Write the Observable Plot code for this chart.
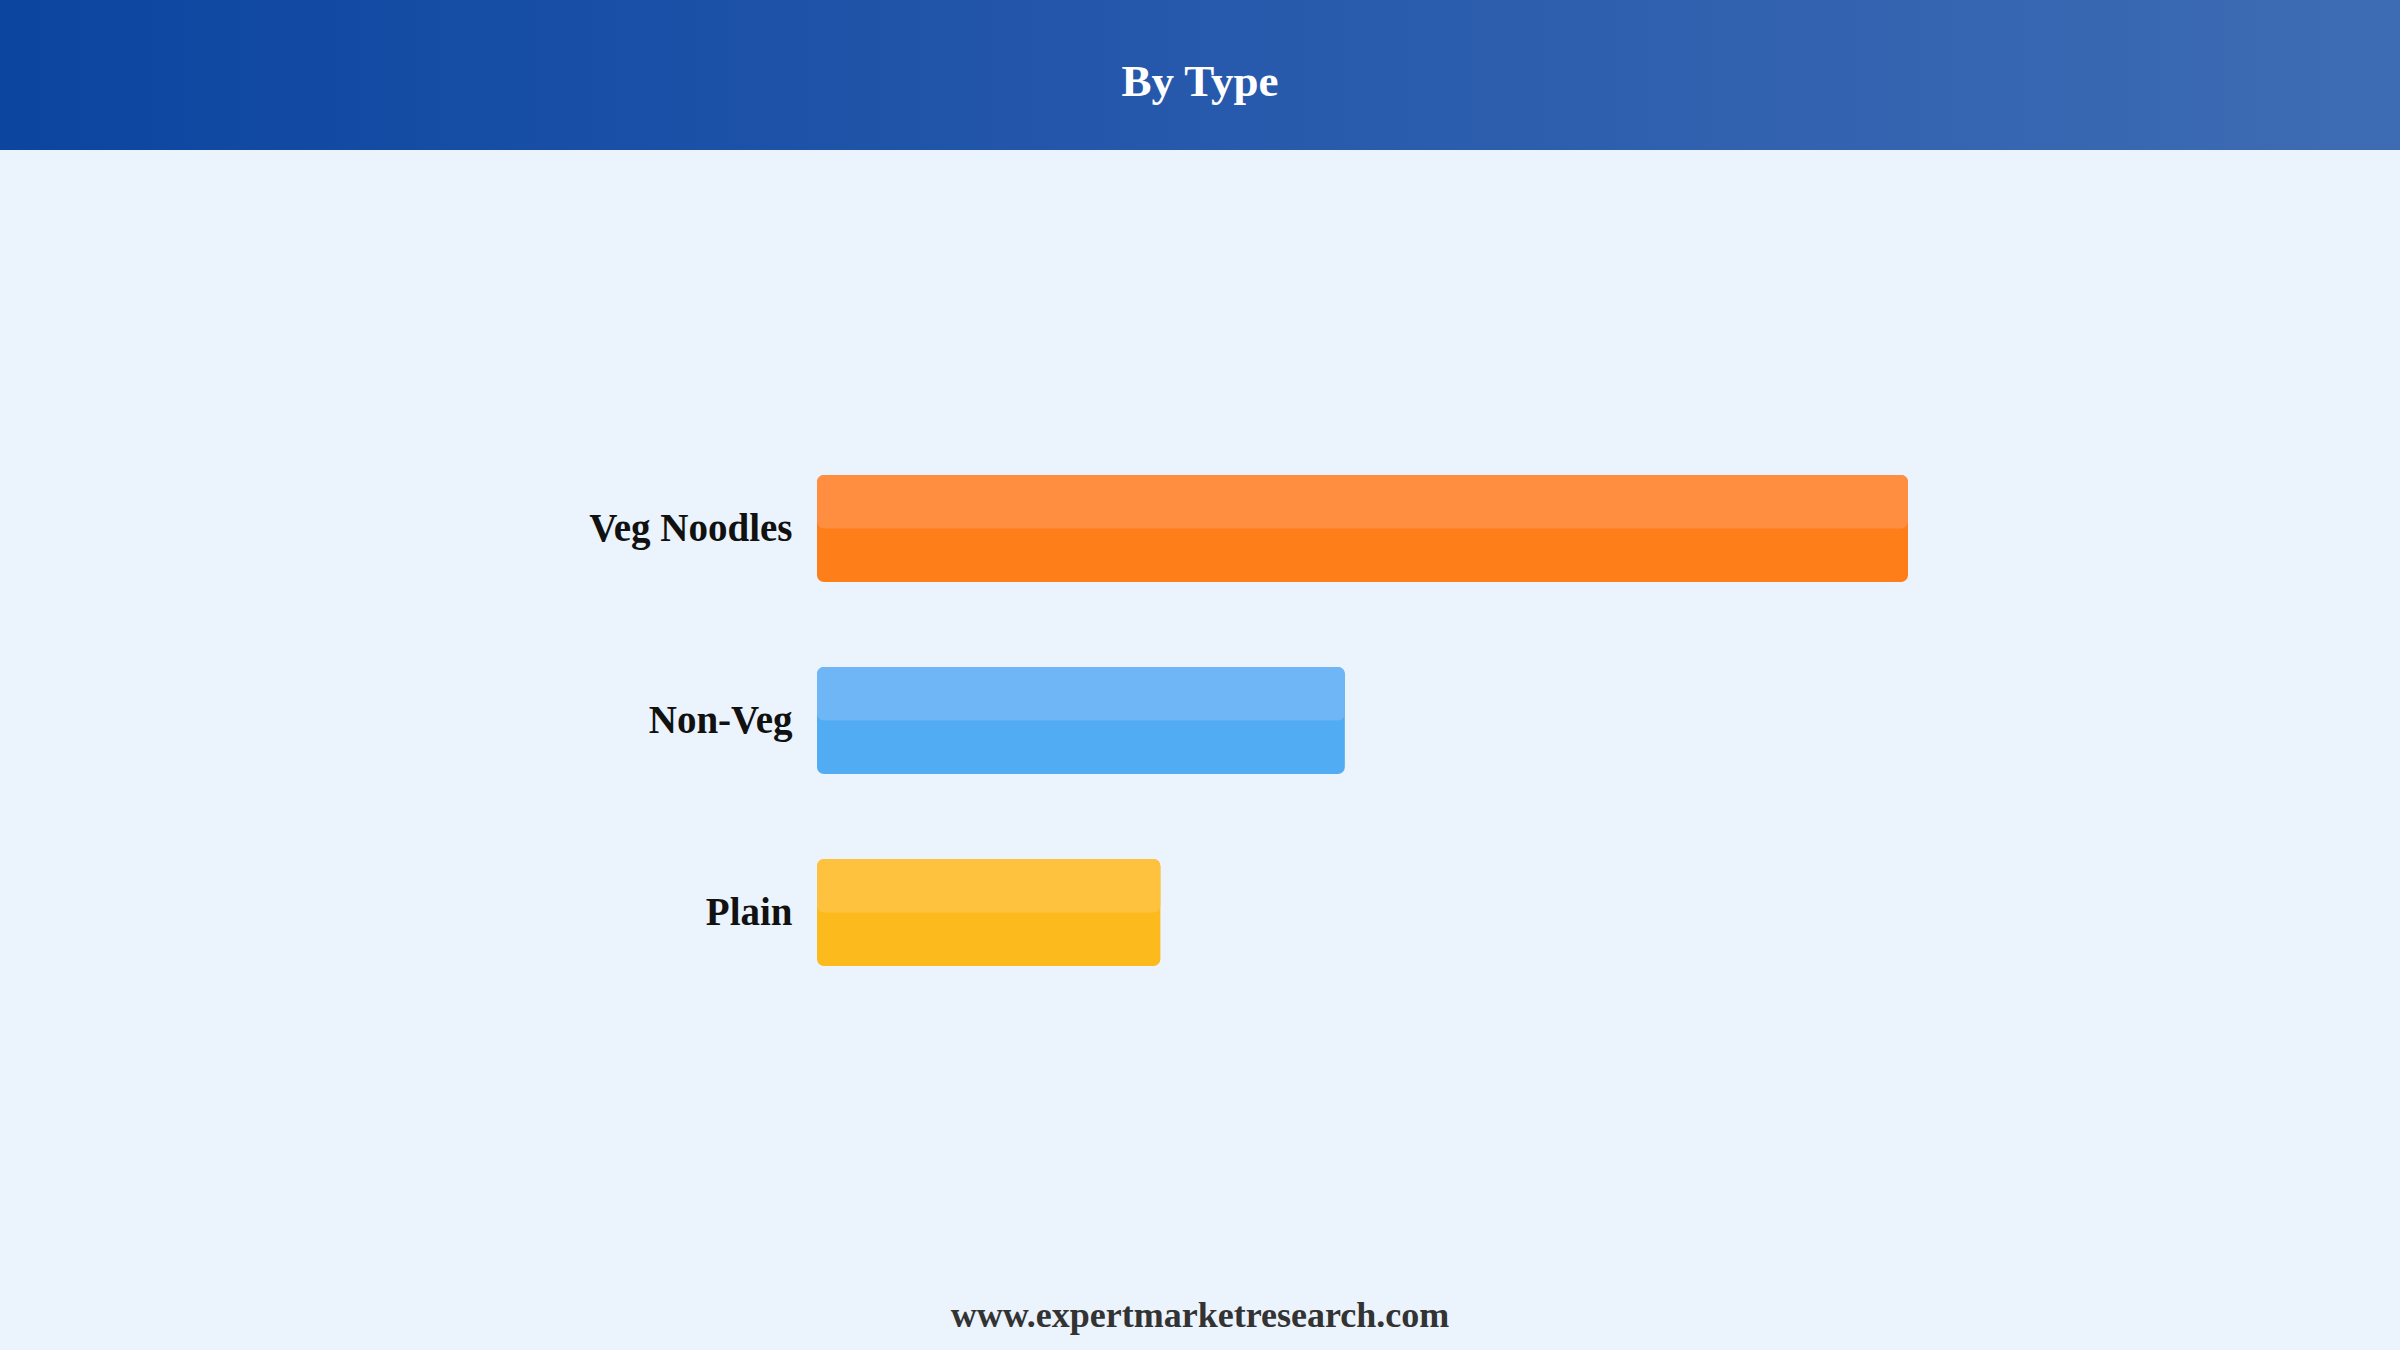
<!DOCTYPE html>
<html>
<head>
<meta charset="utf-8">
<script src="https://cdn.jsdelivr.net/npm/d3@7"></script>
<script src="https://cdn.jsdelivr.net/npm/@observablehq/plot@0.6"></script>
<style>
  html, body { margin: 0; padding: 0; }
  body {
    width: 2400px; height: 1350px; overflow: hidden; position: relative;
    background: #ebf3fc;
    font-family: "Liberation Serif", "DejaVu Serif", serif;
  }
  #header {
    height: 150px; width: 2400px;
    background: linear-gradient(90deg, #0b45a0 0%, #2457ab 45%, #3e6cb4 100%);
    position: relative;
  }
  #title {
    position: absolute; left: 0; width: 2400px; top: 0;
    text-align: center; color: #ffffff;
    font-family: "Liberation Serif", serif; font-weight: bold; font-size: 45px;
    line-height: 1; padding-top: 59px;
  }
  #chart { position: absolute; top: 150px; left: 0; }
  #footer {
    position: absolute; left: 0; width: 2400px; top: 1297px;
    text-align: center; color: #333333;
    font-family: "Liberation Serif", serif; font-weight: bold; font-size: 36px;
    line-height: 1;
  }
</style>
</head>
<body>
<div id="header"><div id="title">By Type</div></div>
<div id="chart"></div>
<div id="footer">www.expertmarketresearch.com</div>
<script>
const categories = ["Veg Noodles", "Non-Veg", "Plain"];
const values = [55.6, 26.9, 17.5];
const darkColors = ["#fe7e1a", "#52acf3", "#fdba1d"];
const lightColors = ["#ff8e40", "#6eb6f5", "#ffc23f"];

const data = categories.map((c, i) => ({
  category: c, value: values[i], dark: darkColors[i], light: lightColors[i]
}));

const bandwidth = 107;

const plot = Plot.plot({
  width: 2400,
  height: 1110,
  style: { background: "transparent", overflow: "visible" },
  x: { domain: [0, 55.6], range: [817, 1908], axis: null },
  y: { domain: categories, range: [282, 858], paddingInner: 0.443, paddingOuter: 0.2215, axis: null },
  marks: [
    Plot.barX(data, { x: "value", y: "category", fill: "dark", rx: 7 }),
    Plot.barX(data, { x: "value", y: "category", fill: "light", rx: 7, insetBottom: bandwidth / 2 }),
    Plot.text(data, {
      x: 0, y: "category", text: "category", textAnchor: "end", dx: -25,
      fontSize: 39, fontWeight: "bold", fill: "#111111",
      fontFamily: "Liberation Serif, serif"
    })
  ]
});
document.getElementById("chart").appendChild(plot);
</script>
</body>
</html>
